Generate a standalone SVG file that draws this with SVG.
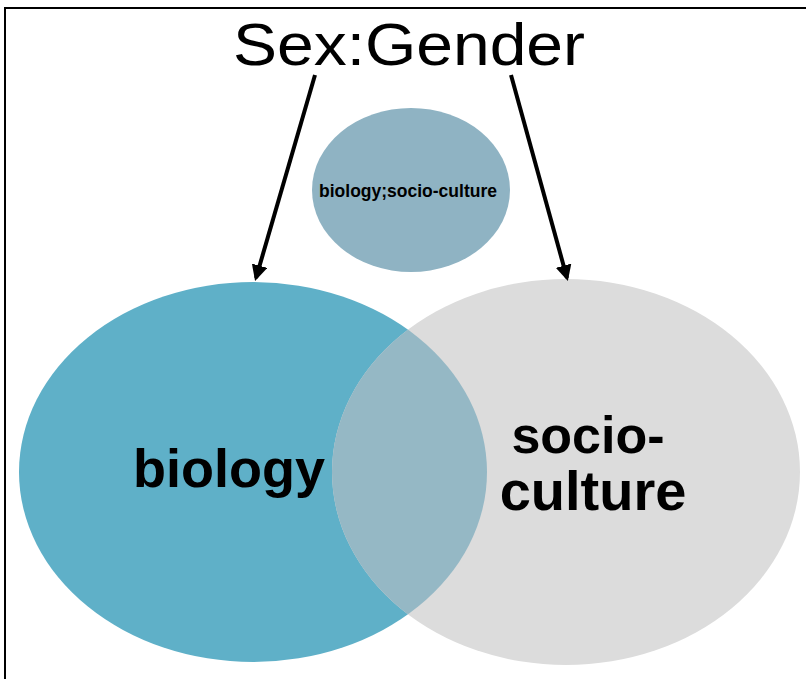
<svg xmlns="http://www.w3.org/2000/svg" width="806" height="679" viewBox="0 0 806 679">
<defs>
<style>
.t{font-family:"Liberation Sans",Arial,sans-serif;fill:#000}
.b{font-weight:bold}
.arrow{stroke:#000;stroke-width:4;fill:none;marker-end:url(#ah)}
</style>
<marker id="ah" viewBox="0 0 10 10" refX="8" refY="5" markerWidth="4" markerHeight="4" orient="auto" markerUnits="strokeWidth">
<path d="M0,0 L10,5 L0,10 z" fill="#000"/>
</marker>
<clipPath id="gclip"><ellipse cx="566" cy="472" rx="234" ry="193"/></clipPath>
</defs>
<rect x="0" y="0" width="806" height="679" fill="#fff"/>
<path d="M5,679 V8 H806" fill="none" stroke="#000" stroke-width="2"/>
<g id="biology">
<ellipse cx="253" cy="472" rx="234" ry="190" fill="#5fb0c8"/>
</g>
<g id="socio-culture">
<ellipse cx="566" cy="472" rx="234" ry="193" fill="#dcdcdc"/>
<ellipse cx="253" cy="472" rx="234" ry="190" fill="#95b8c5" clip-path="url(#gclip)"/>
</g>
<g id="center">
<ellipse cx="411" cy="190" rx="99" ry="82" fill="#8fb3c3"/>
<text class="t b" x="408" y="197" font-size="17.5" text-anchor="middle">biology;socio-culture</text>
</g>
<g id="title">
<text class="t" x="409" y="65" font-size="60" text-anchor="middle" textLength="352" lengthAdjust="spacingAndGlyphs">Sex:Gender</text>
</g>
<text class="t b" x="229" y="487" font-size="54" text-anchor="middle">biology</text>
<text class="t b" x="588" y="453" font-size="52" text-anchor="middle">socio-</text>
<text class="t b" x="593" y="510" font-size="56" text-anchor="middle">culture</text>
<g id="connectors">
<line class="arrow" x1="315" y1="75" x2="256" y2="278"/>
<line class="arrow" x1="511" y1="75" x2="567" y2="278"/>
</g>
</svg>
